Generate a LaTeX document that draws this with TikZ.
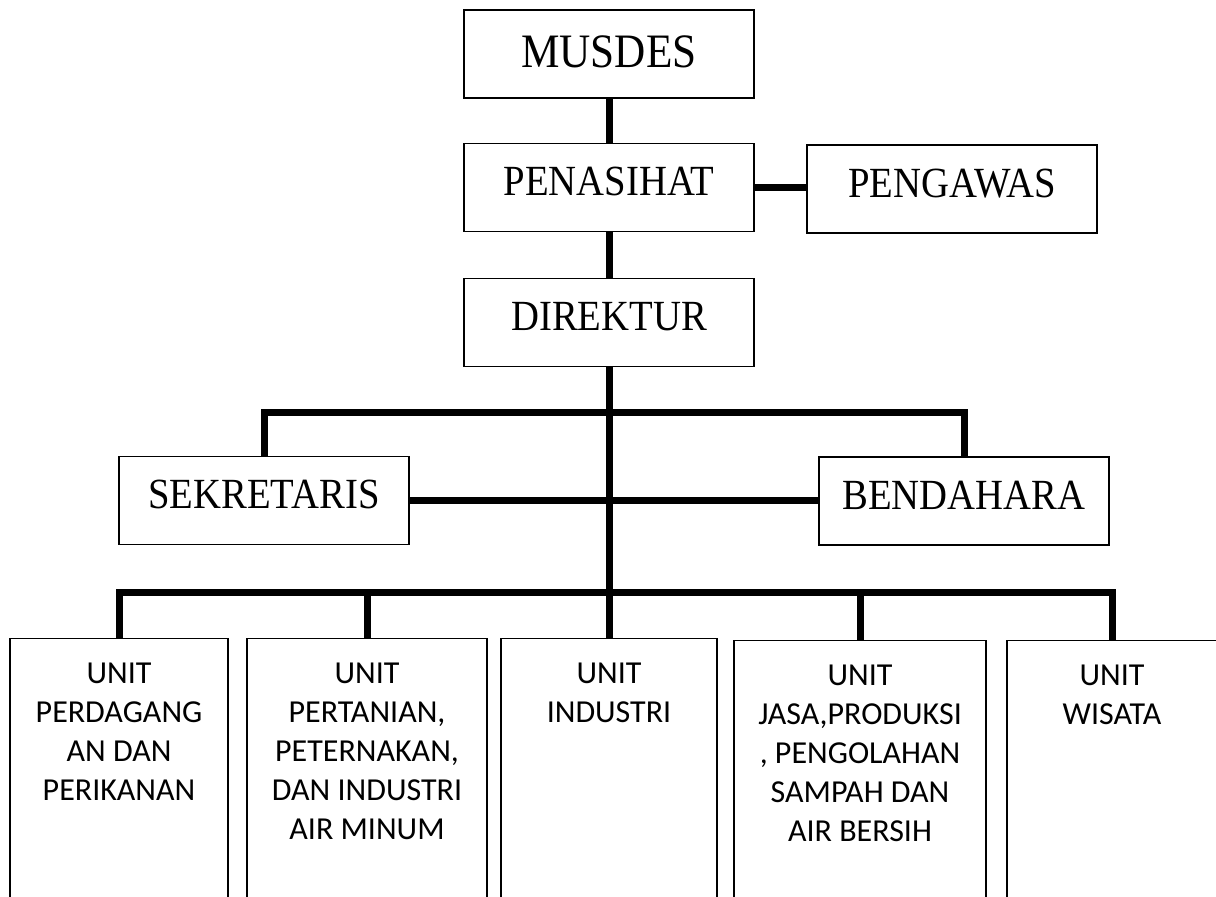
\documentclass[tikz,border=0pt]{standalone}
\usepackage{fontspec}
\setmainfont{Liberation Serif}
\newfontfamily\capfont[FakeStretch=0.9]{Liberation Serif}
\newfontfamily\unitfont{Carlito}
\usetikzlibrary{%
  positioning,% wg. " of "
  calc%
}

\tikzset{
  topbox/.style={draw, line width=1.2pt, inner sep=0pt,
    minimum width=290pt, minimum height=88pt,
    font=\capfont\fontsize{43}{48}\selectfont, text height=28.5pt, text depth=12.5pt},
  unitbox/.style={draw, line width=1.2pt, inner xsep=0pt, inner ysep=24pt,
    anchor=north, font=\unitfont\fontsize{32}{39}\selectfont},
  link/.style={line width=7pt}
}
\newcommand{\unittext}[2]{\parbox[t][220pt][t]{#1}{\centering #2}}

\begin{document}
\begin{tikzpicture}[x=1pt, y=-1pt]
\useasboundingbox (0,0) rectangle (1216,897);

\node[topbox, text height=32pt, text depth=6pt,
  font=\capfont\fontsize{48}{54}\selectfont] (mus) at (609,54) {MUSDES};
\node[topbox] (pen) at (609,187.5) {PENASIHAT};
\node[topbox] (peng) at (952,189) {PENGAWAS};
\node[topbox] (dir) at (609,322.5) {DIREKTUR};
\node[topbox] (sek) at (264,500.5) {SEKRETARIS};
\node[topbox] (ben) at (964,501) {BENDAHARA};

\node[unitbox] (u1) at (119,638) {\unittext{218pt}{UNIT\\PERDAGANG\\AN DAN\\PERIKANAN}};
\node[unitbox] (u2) at (367,638) {\unittext{240pt}{UNIT\\PERTANIAN,\\PETERNAKAN,\\DAN INDUSTRI\\AIR MINUM}};
\node[unitbox] (u3) at (609,638) {\unittext{216pt}{UNIT\\INDUSTRI}};
\node[unitbox] (u4) at (860,640) {\unittext{252pt}{UNIT\\JASA,PRODUKSI\\, PENGOLAHAN\\SAMPAH DAN\\AIR BERSIH}};
\node[unitbox] (u5) at (1112,640) {\unittext{210pt}{UNIT\\WISATA}};

\coordinate (bar1) at (609,412);
\coordinate (bar2) at (609,592);

\draw[link] (mus.south) -- (pen.north);
\draw[link] (pen.south) -- (dir.north);
\draw[link] (pen.east) -- (peng.west |- pen.east);
\draw[link] (dir.south) -- (u3.north);
\draw[link] (sek.north) |- (bar1) -| (ben.north);
\draw[link] (sek.east) -- (ben.west |- sek.east);
\draw[link] (u1.north) |- (bar2) -| (u5.north);
\draw[link] (u2.north) -- (u2.north |- bar2);
\draw[link] (u4.north) -- (u4.north |- bar2);
\end{tikzpicture}
\end{document}
